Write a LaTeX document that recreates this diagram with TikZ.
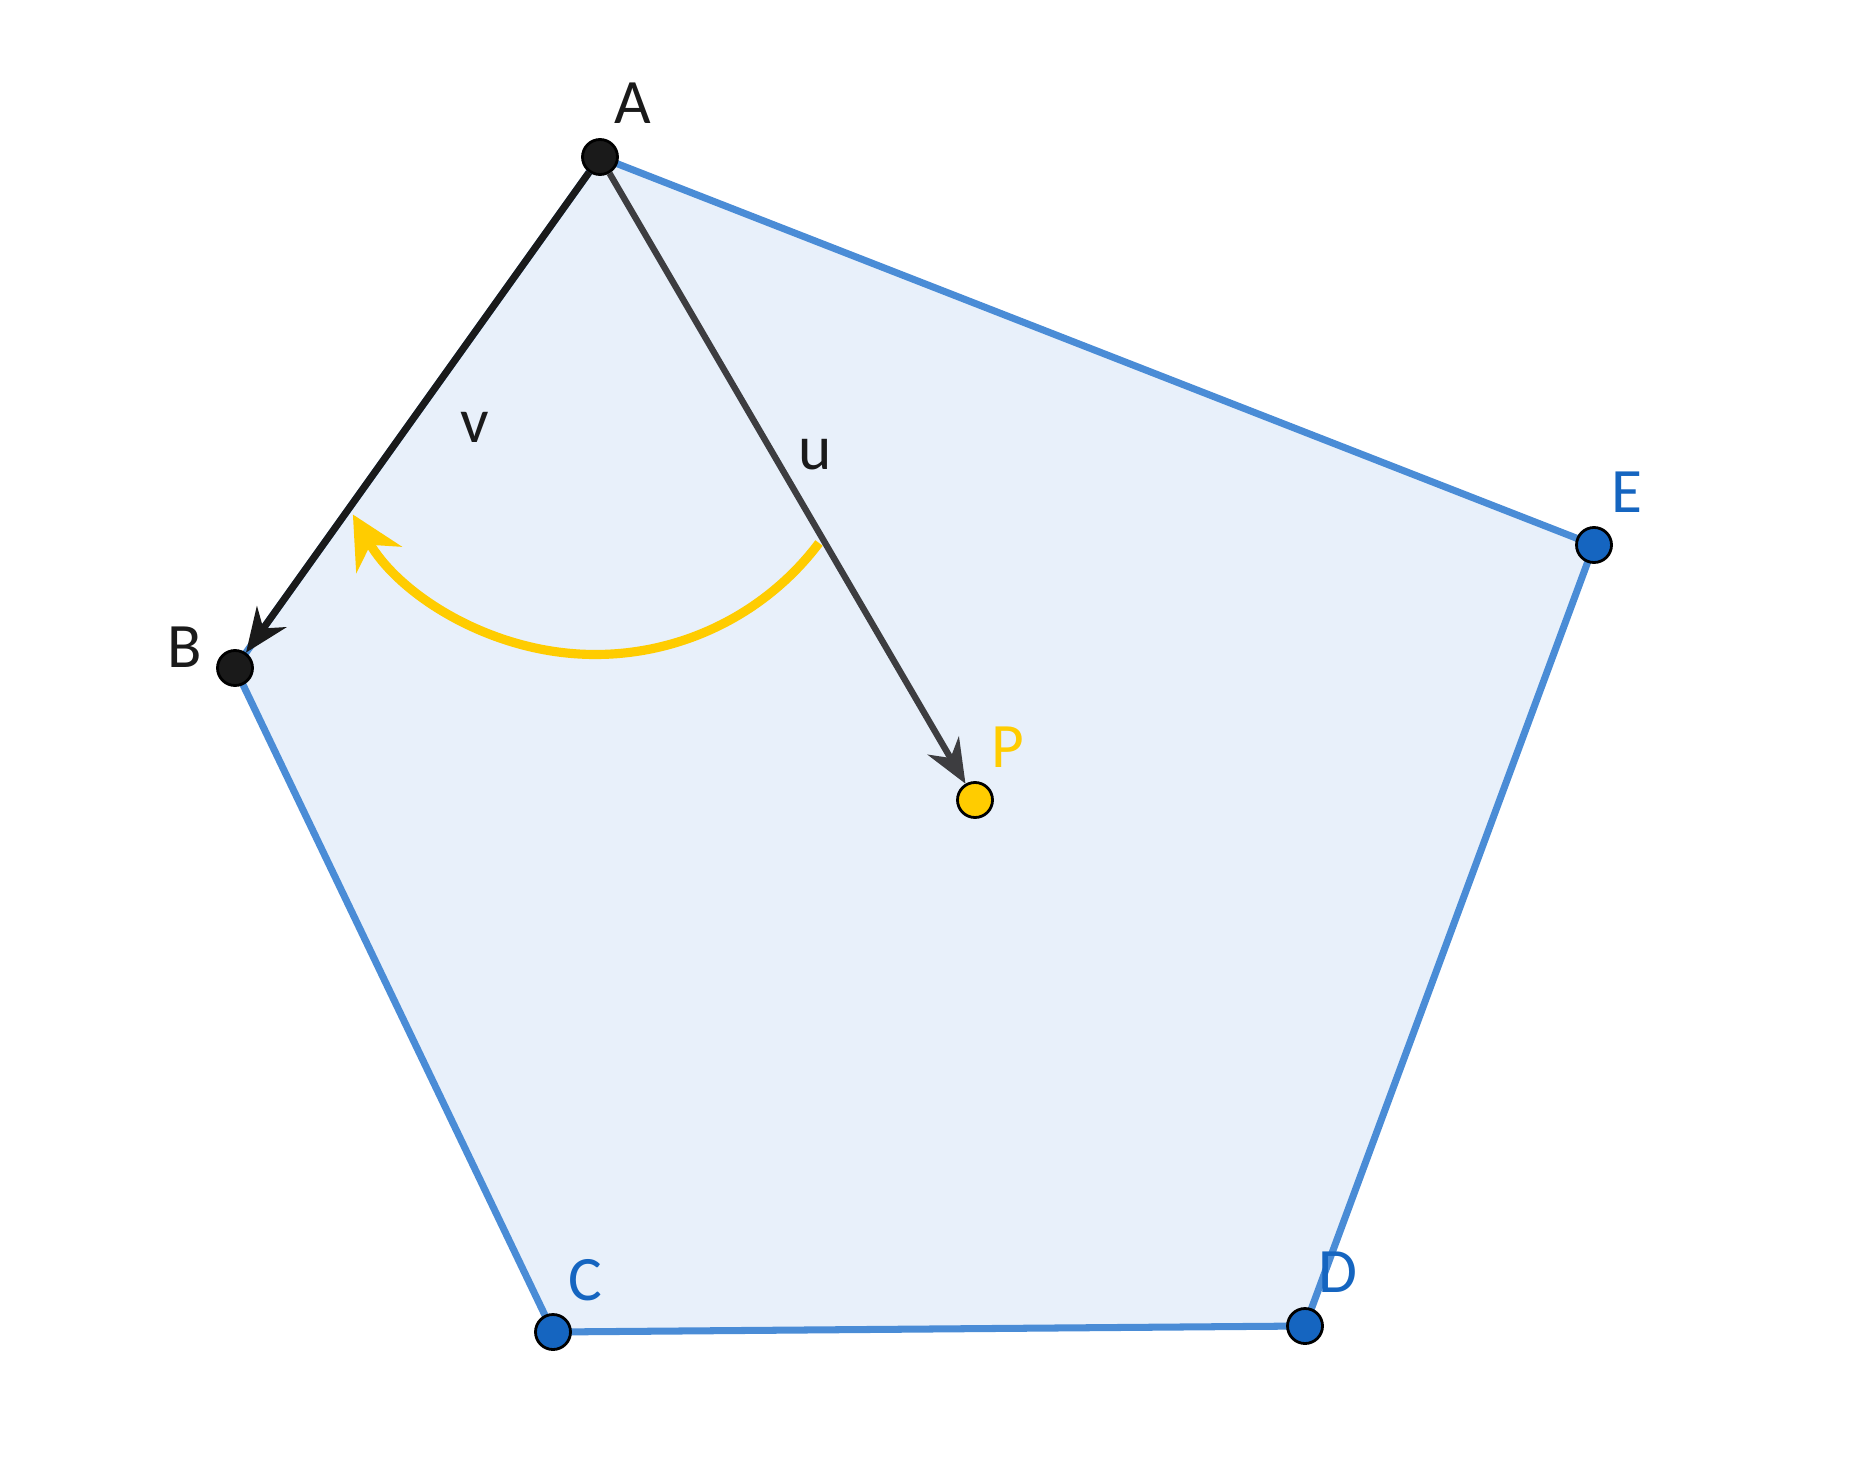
\documentclass[tikz,border=0pt]{standalone}
\usepackage{fontspec}
\setmainfont{Carlito}
\usetikzlibrary{arrows.meta,backgrounds}
\definecolor{polyfill}{HTML}{E8F0FA}
\definecolor{polyedge}{HTML}{4A8CD6}
\definecolor{ptblue}{HTML}{1565C0}
\definecolor{ptyellow}{HTML}{FFCC00}
\definecolor{vecdark}{HTML}{1A1A1A}
\definecolor{vecgray}{HTML}{3D3D40}
\tikzset{
	pt/.style={circle, draw=black, line width=0.8pt, inner sep=0pt, minimum size=0.35cm},
	lbl/.style={font=\fontsize{18}{20}\selectfont, inner sep=1pt},
	vec/.style={line width=2pt, -{Stealth[length=4.4mm, width=3.6mm]}},
}

\begin{document}
\begin{tikzpicture}
		%%%%% START %%%%%
		\useasboundingbox (0, 0) rectangle (18.56, -14.75);
		
		% points
		\node[pt, fill=vecdark] (A) at (6.00, -1.57) {};
		\node[pt, fill=vecdark] (B) at (2.35, -6.68) {};
		\node[pt, fill=ptblue] (C) at (5.53, -13.32) {};
		\node[pt, fill=ptblue] (D) at (13.05, -13.26) {};
		\node[pt, fill=ptblue] (E) at (15.94, -5.45) {};
		\node[pt, fill=ptyellow] (P) at (9.75, -8.00) {};
		
		% pentagon
		\begin{pgfonlayer}{background}
			\draw[polyedge, fill=polyfill, line width=2pt, line join=round] (A.center) -- (B.center) -- (C.center) -- (D.center) -- (E.center) -- cycle;
		\end{pgfonlayer}
		
		% turning arc
		\coordinate (arcstart) at (8.19, -5.43);
		\draw[ptyellow, line width=2.6pt, -{Stealth[length=5.2mm, width=5.2mm, inset=1.7mm]}] (arcstart) arc[start angle=-37, end angle=-150, radius=2.8];
		
		% vectors
		\draw[vec, vecdark] (A) -- (B);
		\draw[vec, vecgray, line width=1.8pt] (A) -- (P);
		
		% labels
		\node[lbl, text=vecdark] (Alab) at (6.33, -1.03) {A};
		\node[lbl, text=vecdark] (Blab) at (1.85, -6.47) {B};
		\node[lbl, text=ptblue] (Clab) at (5.85, -12.80) {C};
		\node[lbl, text=ptblue] (Dlab) at (13.38, -12.72) {D};
		\node[lbl, text=ptblue] (Elab) at (16.27, -4.92) {E};
		\node[lbl, text=ptyellow] (Plab) at (10.08, -7.47) {P};
		\node[lbl, text=vecdark] (vlab) at (4.75, -4.27) {v};
		\node[lbl, text=vecdark] (ulab) at (8.15, -4.55) {u};
		
		%%%%% END %%%%%
	\end{tikzpicture}
\end{document}
